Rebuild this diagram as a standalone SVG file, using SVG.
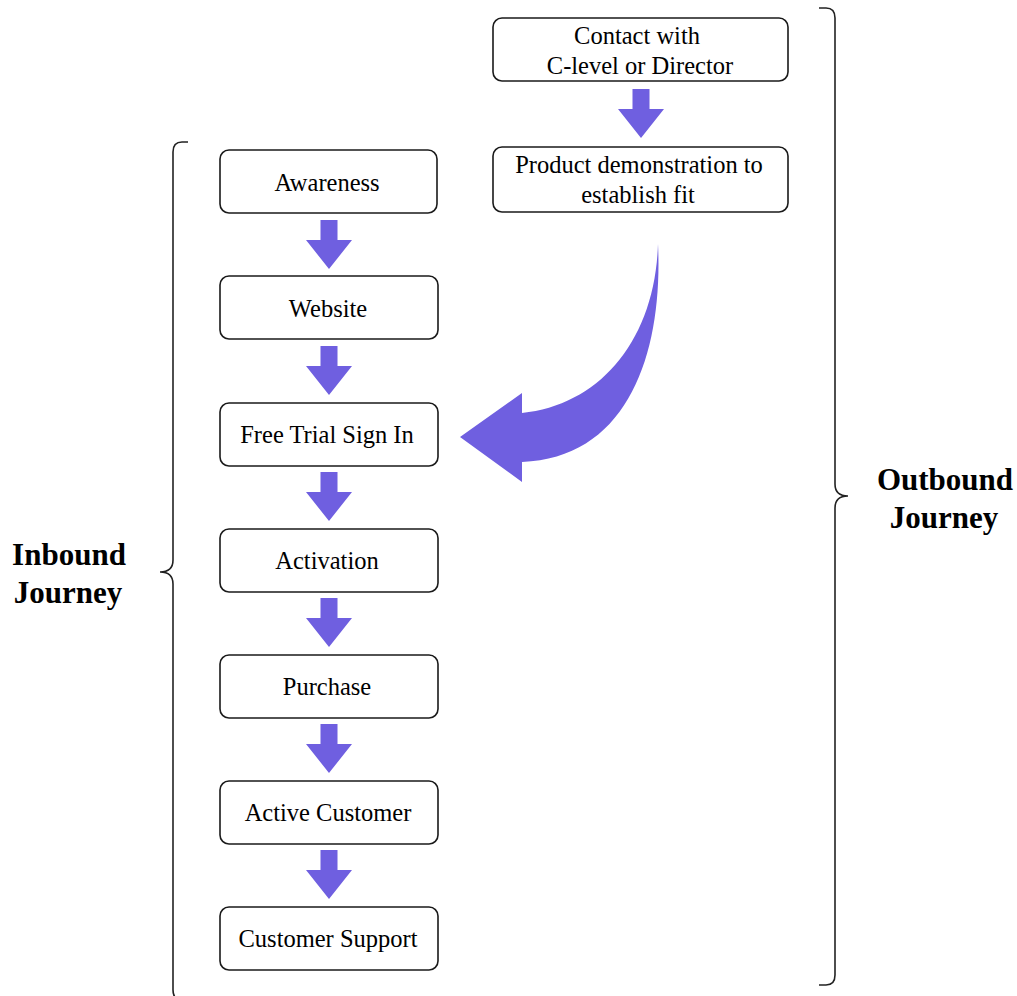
<svg xmlns="http://www.w3.org/2000/svg" width="1017" height="996" viewBox="0 0 1017 996">
<defs>
<style>
.box{fill:#fff;stroke:#1a1a1a;stroke-width:1.6}
.t{font-family:"Liberation Serif","Times New Roman",serif;font-size:24.5px;fill:#000;text-anchor:middle}
.lbl{font-family:"Liberation Serif","Times New Roman",serif;font-size:31px;font-weight:bold;fill:#000;text-anchor:middle}
.arr{fill:#6f5fe0}
.brace{fill:none;stroke:#222;stroke-width:1.6}
</style>
<path id="dn" d="M-8.5,0 H8.5 V20 H23 L0,49 L-23,20 H-8.5 Z"/>
</defs>
<rect width="1017" height="996" fill="#fff"/>
<g id="connectors">
<use href="#dn" class="arr" x="329" y="220"/>
<use href="#dn" class="arr" x="329" y="346"/>
<use href="#dn" class="arr" x="329" y="472"/>
<use href="#dn" class="arr" x="329" y="598"/>
<use href="#dn" class="arr" x="329" y="724"/>
<use href="#dn" class="arr" x="329" y="850"/>
<use href="#dn" class="arr" x="641" y="89"/>
<path class="arr" d="M658,244 C663,350 630,458 522,462 L522,482 L460,437 L522,393 L522,413 C600,405 655,340 658,244 Z"/>
</g>
<g id="awareness"><rect class="box" x="220" y="150" width="217" height="63" rx="9"/><text class="t" x="327" y="191">Awareness</text></g>
<g id="website"><rect class="box" x="220" y="276" width="218" height="63" rx="9"/><text class="t" x="328" y="317">Website</text></g>
<g id="freetrial"><rect class="box" x="220" y="403" width="218" height="63" rx="9"/><text class="t" x="327" y="443">Free Trial Sign In</text></g>
<g id="activation"><rect class="box" x="220" y="529" width="218" height="63" rx="9"/><text class="t" x="327" y="569">Activation</text></g>
<g id="purchase"><rect class="box" x="220" y="655" width="218" height="63" rx="9"/><text class="t" x="327" y="695">Purchase</text></g>
<g id="activecustomer"><rect class="box" x="220" y="781" width="218" height="63" rx="9"/><text class="t" x="328" y="821">Active Customer</text></g>
<g id="customersupport"><rect class="box" x="220" y="907" width="218" height="63" rx="9"/><text class="t" x="328" y="947">Customer Support</text></g>
<g id="contact"><rect class="box" x="493" y="18" width="295" height="63" rx="9"/><text class="t" x="637" y="44">Contact with</text><text class="t" x="640" y="74">C-level or Director</text></g>
<g id="demo"><rect class="box" x="493" y="147" width="295" height="65" rx="9"/><text class="t" x="639" y="173">Product demonstration to</text><text class="t" x="638" y="203">establish fit</text></g>
<g id="inbound">
<path class="brace" d="M188,142 H182 Q173,142 173,152 V560 Q173,572 160,572 Q173,572 173,584 V990 Q173,1000 182,1000"/>
<text class="lbl" x="69" y="565">Inbound</text><text class="lbl" x="68" y="603">Journey</text>
</g>
<g id="outbound">
<path class="brace" d="M819,8 H826 Q835,8 835,18 V484 Q835,496 848,496 Q835,496 835,508 V975 Q835,985 826,985 H819"/>
<text class="lbl" x="945" y="490">Outbound</text><text class="lbl" x="944" y="528">Journey</text>
</g>
</svg>
